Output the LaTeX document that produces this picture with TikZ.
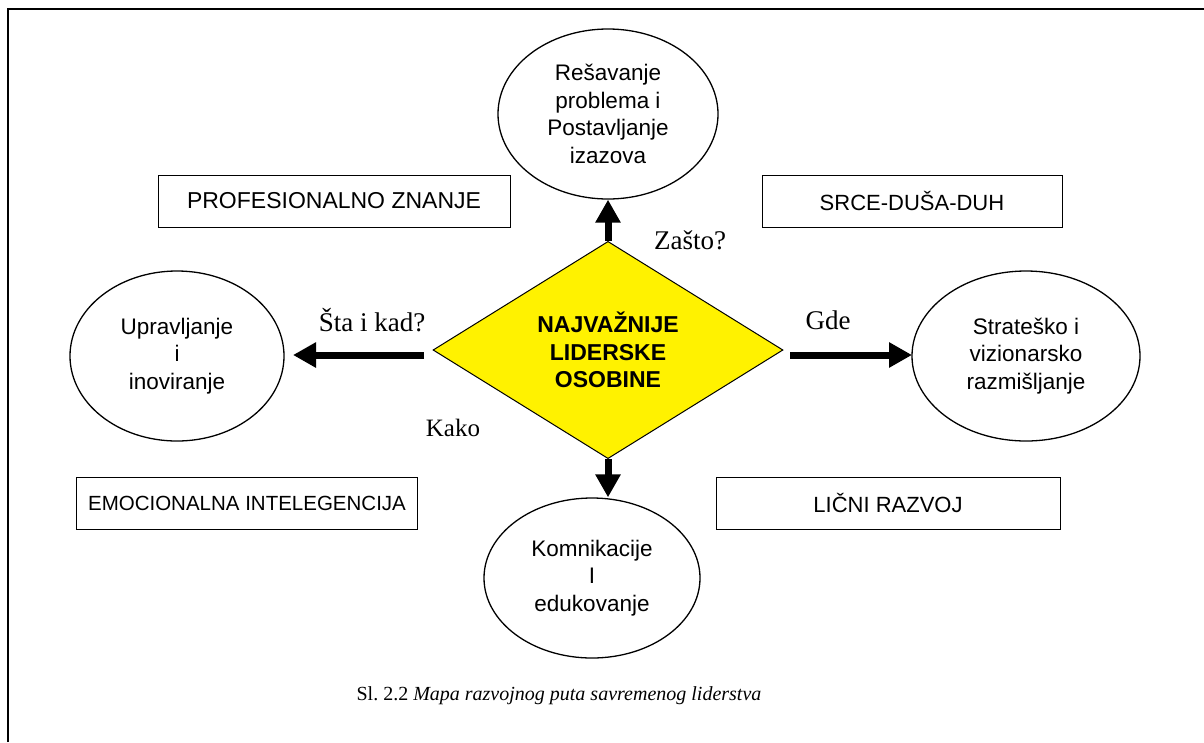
\documentclass[tikz,border=0pt]{standalone}
\usepackage{fontspec}
\setmainfont{Liberation Serif}
\newfontfamily\arialf{Liberation Sans}
\usetikzlibrary{shapes.geometric,arrows.meta}
\frenchspacing
\begin{document}
\begin{tikzpicture}[x=1pt,y=-1pt,
  oval/.style={ellipse, draw, line width=1.3pt, inner sep=0pt, align=center,
    font=\arialf\fontsize{22.5}{27.5}\selectfont},
  lbox/.style={draw, line width=1pt, minimum height=52pt, inner xsep=12pt,
    font=\arialf\fontsize{22}{26}\selectfont},
  bigarrow/.style={line width=7pt, -{Triangle[width=24pt,length=23pt]}},
  qlabel/.style={font=\fontsize{27}{30}\selectfont, inner sep=0pt}]
\useasboundingbox (0,0) rectangle (1204,742);
\fill[white] (0,0) rectangle (1204,742);
% frame
\coordinate (fa) at (8,742);
\coordinate (fb) at (8,9);
\coordinate (fc) at (1204,9);
\draw[line width=2.5pt] (fa) -- (fb) -- (fc);
% centre
\node[diamond, draw, line width=1pt, fill=yellow, inner sep=0pt,
  minimum width=350pt, minimum height=180pt, align=center,
  font=\arialf\bfseries\fontsize{23}{27.5}\selectfont] (d) at (608,350)
  {NAJVAŽNIJE\\LIDERSKE\\OSOBINE};
% ovals
\node[oval, minimum width=220pt, minimum height=170pt] (top) at (608,114)
  {Rešavanje\\problema i\\Postavljanje\\izazova};
\node[oval, minimum width=214pt, minimum height=170pt] (lft) at (177,356)
  {Upravljanje\\i\\inoviranje};
\node[oval, minimum width=228pt, minimum height=170pt] (rgt) at (1026,356)
  {Strateško i\\vizionarsko\\razmišljanje};
\node[oval, minimum width=216pt, minimum height=160pt] (bot) at (592,578)
  {Komnikacije\\I\\edukovanje};
% boxes
\node[lbox, minimum width=352pt, font=\arialf\fontsize{23}{26}\selectfont] (b1) at (334,201) {PROFESIONALNO ZNANJE};
\node[lbox, minimum width=300pt] (b2) at (912,201) {SRCE-DUŠA-DUH};
\node[lbox, minimum width=336pt, font=\arialf\fontsize{20.5}{26}\selectfont] (b3) at (247,503) {EMOCIONALNA INTELEGENCIJA};
\node[lbox, minimum width=344pt] (b4) at (888,503) {LIČNI RAZVOJ};
% arrows
\coordinate (ls) at (424,355);
\coordinate (le) at (293,355);
\coordinate (rs) at (790,355);
\coordinate (re) at (912,355);
\draw[bigarrow] (d.north) -- (top.south);
\draw[bigarrow] (ls) -- (le);
\draw[bigarrow] (rs) -- (re);
\draw[bigarrow] (d.south) -- (d.south |- bot.north);
% labels
\node[qlabel] (q1) at (690,240) {Zašto?};
\node[qlabel] (q2) at (372,320) {Šta i kad?};
\node[qlabel] (q3) at (828,320) {Gde};
\node[qlabel, font=\fontsize{25}{30}\selectfont] (q4) at (453,428) {Kako};
% caption
\node[font=\fontsize{20}{24}\selectfont] (cap) at (559,696)
  {Sl.\ 2.2 \textit{Mapa razvojnog puta savremenog liderstva}};
\end{tikzpicture}
\end{document}
